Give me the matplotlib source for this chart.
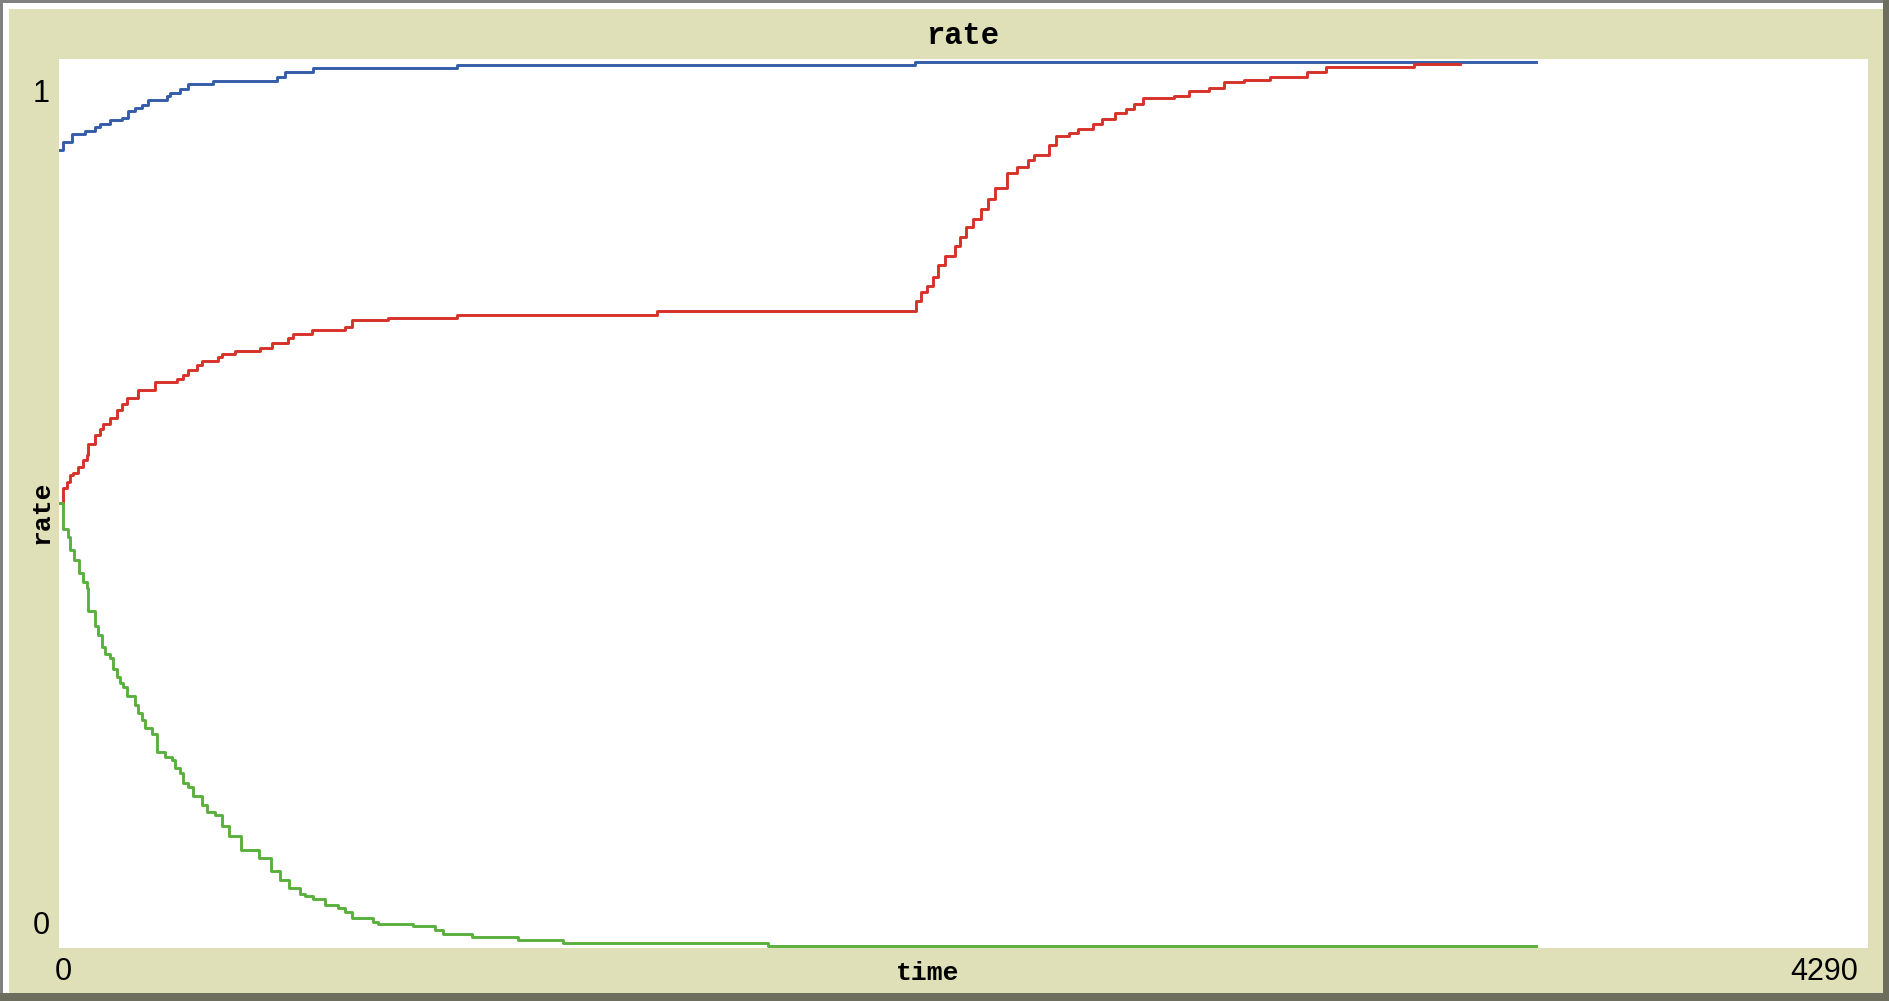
import matplotlib
matplotlib.use("Agg")
import matplotlib.pyplot as plt
from matplotlib.patches import Rectangle

# data (time, rate)
blue_t = [0, 10, 30, 62, 85, 97, 121, 149, 164, 180, 196, 212, 255, 263, 287,
          307, 366, 516, 536, 603, 943, 2030, 3503]
blue_v = [0.900, 0.909, 0.918, 0.921, 0.925, 0.929, 0.933, 0.936, 0.943, 0.947,
          0.950, 0.956, 0.960, 0.964, 0.968, 0.974, 0.978, 0.982, 0.988, 0.992,
          0.995, 0.999, 0.999]

red_t = [0, 10, 18, 26, 34, 46, 58, 66, 69, 85, 97, 105, 121, 137, 149, 161,
         188, 228, 279, 295, 307, 327, 338, 378, 386, 417, 477, 504, 544, 556,
         599, 678, 694, 781, 943, 1418,
         2032, 2045, 2059, 2072, 2085, 2102, 2124, 2137, 2150, 2168, 2186, 2203,
         2220, 2247, 2273, 2299, 2312, 2347, 2365, 2395, 2417, 2452, 2474, 2505,
         2531, 2549, 2570, 2645, 2680, 2728, 2763, 2811, 2872, 2960, 3004, 3214,
         3323]
red_v = [0.500, 0.518, 0.524, 0.532, 0.535, 0.541, 0.549, 0.555, 0.567, 0.577,
         0.584, 0.590, 0.597, 0.606, 0.612, 0.619, 0.628, 0.637, 0.641, 0.645,
         0.651, 0.657, 0.661, 0.665, 0.669, 0.672, 0.676, 0.681, 0.687, 0.692,
         0.696, 0.700, 0.707, 0.710, 0.713, 0.717,
         0.729, 0.739, 0.746, 0.756, 0.769, 0.780, 0.791, 0.801, 0.812, 0.822,
         0.833, 0.844, 0.857, 0.873, 0.880, 0.888, 0.894, 0.905, 0.915, 0.919,
         0.923, 0.929, 0.934, 0.941, 0.946, 0.951, 0.958, 0.961, 0.966, 0.969,
         0.976, 0.979, 0.982, 0.988, 0.993, 0.997, 0.997]

green_t = [0, 10, 21, 26, 36, 47, 58, 66, 69, 85, 93, 101, 109, 121, 129, 137,
           145, 152, 161, 180, 188, 196, 204, 220, 232, 251, 267, 275, 287, 295,
           307, 318, 338, 350, 370, 387, 403, 432, 474, 503, 524, 545, 572, 583,
           603, 631, 662, 678, 694, 745, 757, 840, 892, 911, 979, 1089, 1196,
           1682, 3503]
green_v = [0.500, 0.471, 0.462, 0.447, 0.436, 0.422, 0.411, 0.404, 0.379, 0.362,
           0.351, 0.338, 0.330, 0.325, 0.313, 0.304, 0.297, 0.293, 0.283, 0.272,
           0.263, 0.255, 0.246, 0.240, 0.219, 0.214, 0.210, 0.201, 0.195, 0.184,
           0.180, 0.170, 0.159, 0.151, 0.148, 0.135, 0.124, 0.109, 0.099, 0.085,
           0.075, 0.066, 0.059, 0.056, 0.053, 0.046, 0.043, 0.038, 0.032, 0.027,
           0.025, 0.022, 0.018, 0.014, 0.010, 0.0068, 0.0037, 0.0003, 0.0003]

W, H = 1890, 1001
beige = "#DFDFB8"
fig = plt.figure(figsize=(W / 100, H / 100), dpi=100, facecolor=beige)


def box(x0, y0, x1, y1, color):
    # pixel box measured from the top-left corner
    fig.add_artist(Rectangle((x0 / W, 1 - y1 / H), (x1 - x0) / W, (y1 - y0) / H,
                             transform=fig.transFigure, color=color, lw=0))


# bevelled widget frame
box(0, 0, W, 3, "#808080")
box(0, 0, 3, H, "#808080")
box(3, 3, 1883, 9, "white")
box(3, 3, 9, 995, "white")
box(0, 993, W, H, "#6E6E5E")
box(1883, 0, W, H, "#6E6E5E")

# plot area
L, R, T, B = 59, 1868, 59, 948
ax = fig.add_axes([L / W, 1 - B / H, (R - L) / W, (B - T) / H])
ax.set_facecolor("white")
lw = 2.1
ax.plot(blue_t, blue_v, drawstyle="steps-post", color="#345DA9", lw=lw)
ax.plot(red_t, red_v, drawstyle="steps-post", color="#D73229", lw=lw)
ax.plot(green_t, green_v, drawstyle="steps-post", color="#59B03C", lw=lw)
ax.set_xlim(0, 4290)
ax.set_ylim(-0.0023, 1.0023)
ax.set_xticks([])
ax.set_yticks([])
for s in ax.spines.values():
    s.set_visible(False)

mono = "Liberation Mono"
sans = "Liberation Sans"
fig.text(963 / W, 1 - 36 / H, "rate", family=mono, weight="bold", size=22,
         ha="center", va="center")
fig.text(41 / W, 1 - 512 / H, "rate", family=mono, weight="bold", size=19,
         rotation=90, ha="center", va="center")
fig.text(928 / W, 1 - 973 / H, "time", family=mono, weight="bold", size=19,
         ha="center", va="center")
fig.text(41 / W, 1 - 94 / H, "1", family=sans, size=22, ha="center", va="center")
fig.text(41 / W, 1 - 926 / H, "0", family=sans, size=22, ha="center", va="center")
fig.text(63 / W, 1 - 972 / H, "0", family=sans, size=22, ha="center", va="center")
fig.text(1858 / W, 1 - 972 / H, "4290", family=sans, size=22, ha="right",
         va="center")

fig.savefig("out.png", dpi=100, facecolor=beige)
